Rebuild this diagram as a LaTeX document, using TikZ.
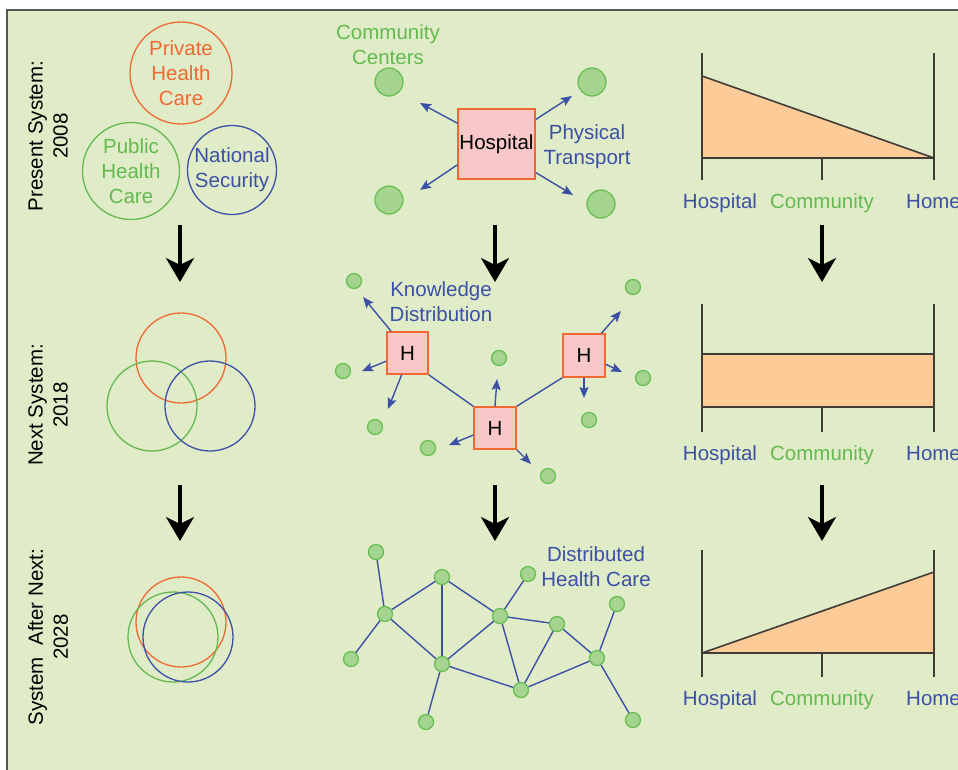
\documentclass[tikz,border=0pt]{standalone}
\usepackage{fontspec}
\setmainfont{Liberation Sans}
\usetikzlibrary{arrows.meta}
\definecolor{panelbg}{RGB}{224,236,200}
\definecolor{framegray}{RGB}{85,85,85}
\definecolor{privorange}{RGB}{240,105,50}
\definecolor{pubgreen}{RGB}{100,185,80}
\definecolor{secblue}{RGB}{60,80,165}
\definecolor{dotfill}{RGB}{165,212,142}
\definecolor{dotline}{RGB}{105,190,85}
\definecolor{hospfill}{RGB}{248,200,200}
\definecolor{barfill}{RGB}{252,203,152}
\definecolor{axisgray}{RGB}{65,60,55}
\begin{document}
\begin{tikzpicture}[x=1pt, y=-1pt, font=\fontsize{20.5}{25}\selectfont,
  ring/.style={circle, draw=#1, text=#1, line width=1.3pt, inner sep=0pt, align=center},
  venn/.style={draw=#1, line width=1.3pt},
  hospbox/.style={draw=privorange, fill=hospfill, line width=1.5pt, inner sep=0pt},
  bigdot/.style={circle, fill=dotfill, draw=dotline, line width=1.3pt, minimum size=28pt, inner sep=0pt},
  smalldot/.style={bigdot, minimum size=15pt},
  flow/.style={draw=secblue, line width=1.4pt, -{Stealth[length=11pt,width=9pt,inset=2pt]}},
  link/.style={draw=secblue, line width=1.4pt},
  bigarrow/.style={line width=3.5pt, -{Stealth[length=24pt,width=28pt,inset=7pt]}},
  axis/.style={draw=axisgray, line width=1.6pt},
  rowlabel/.style={rotate=90, align=center},
  note/.style={text=#1, align=center}]
\useasboundingbox (0,0) rectangle (958,769);
\fill[panelbg] (7,10) rectangle (975,785);
\draw[framegray, line width=1.5pt] (975,10) -- (7,10) -- (7,785);

% row labels
\node[rowlabel] (lbl1) at (48,136) {Present System:\\2008};
\node[rowlabel] (lbl2) at (48,405) {Next System:\\2018};
\node[rowlabel] (lbl3) at (48,637) {System~ After Next:\\2028};

% column 1: sectors
\node[ring=privorange, minimum size=102pt] (priv) at (181,73) {Private\\Health\\Care};
\node[ring=pubgreen, minimum size=97pt] (pub) at (131,171) {Public\\Health\\Care};
\node[ring=secblue, minimum size=89pt] (natsec) at (232,170) {National\\Security};
\draw[venn=privorange] (181,358) circle (45);
\draw[venn=pubgreen] (152,406) circle (45);
\draw[venn=secblue] (210,406) circle (45);
\draw[venn=privorange] (181,622) circle (45);
\draw[venn=pubgreen] (173,637) circle (45);
\draw[venn=secblue] (188,637) circle (45);

% column 2, row 1: one hospital
\node[note=pubgreen] (cctxt) at (388,45) {Community\\Centers};
\node[note=secblue] (pttxt) at (587,147) {Physical\\Transport};
\node[hospbox, minimum width=77pt, minimum height=70pt] (hosp) at (496.5,144) {Hospital};
\node[bigdot] (cc1) at (389,82) {};
\node[bigdot] (cc2) at (592,82) {};
\node[bigdot] (cc3) at (389,200) {};
\node[bigdot] (cc4) at (601,204) {};
\coordinate (t1) at (420,103);
\coordinate (t2) at (572,96);
\coordinate (t3) at (420,190);
\coordinate (t4) at (573,195);
\draw[flow] (hosp.152) -- (t1);
\draw[flow] (hosp.32) -- (t2);
\draw[flow] (hosp.208) -- (t3);
\draw[flow] (hosp.-36) -- (t4);

% column 2, row 2: several hospitals
\node[note=secblue] (kdtxt) at (441,302) {Knowledge\\Distribution};
\node[hospbox, minimum width=41pt, minimum height=42pt] (h1) at (407.5,353) {H};
\node[hospbox, minimum width=42pt, minimum height=43pt] (h2) at (584,355.5) {H};
\node[hospbox, minimum width=42pt, minimum height=42pt] (h3) at (495,428) {H};
\draw[link] (h1.south east) -- (h3.north west);
\draw[link] (h2.south west) -- (h3.north east);
\foreach \p [count=\i] in {(354,281),(633,287),(343,371),(499,358),(643,378),
    (375,427),(589,420),(428,448),(548,476)}
  \node[smalldot] (d\i) at \p {};
\coordinate (k1) at (363,297);
\coordinate (k2) at (362,371);
\coordinate (k3) at (388,409);
\coordinate (k4) at (621,311);
\coordinate (k5) at (622,372);
\coordinate (k6) at (584,398);
\coordinate (k7) at (497,379);
\coordinate (k8) at (449,445);
\coordinate (k9) at (531,464);
\draw[flow] (h1.127) -- (k1);
\draw[flow] (h1.201) -- (k2);
\draw[flow] (h1.255) -- (k3);
\draw[flow] (h2.52) -- (k4);
\draw[flow] (h2.-22) -- (k5);
\draw[flow] (h2.south) -- (k6);
\draw[flow] (h3.north) -- (k7);
\draw[flow] (h3.198) -- (k8);
\draw[flow] (h3.south east) -- (k9);

% column 2, row 3: network
\node[note=secblue] (dhtxt) at (596,567) {Distributed\\Health Care};
\foreach \p [count=\i] in {(376,552),(442,577),(528,574),(385,614),(500,616),
    (557,624),(617,604),(351,659),(442,664),(597,658),(521,690),(426,722),(633,720)}
  \node[smalldot] (n\i) at \p {};
\foreach \a/\b in {1/4,4/2,4/8,4/9,2/9,2/5,5/3,5/9,5/6,5/11,6/11,6/10,7/10,
    10/11,10/13,9/11,9/12}
  \draw[link] (n\a) -- (n\b);

% column 3: where care happens
\fill[barfill] (702,76) -- (934,158) -- (702,158) -- cycle;
\draw[axis] (702,76) -- (934,158);
\fill[barfill] (702,354) rectangle (934,407);
\draw[axis] (702,354) -- (934,354);
\fill[barfill] (702,653) -- (934,572) -- (934,653) -- cycle;
\draw[axis] (702,653) -- (934,572);
\foreach \top/\base/\bot [count=\i] in {53/158/180, 304/407/432, 550/653/677} {
  \draw[axis] (702,\top) -- (702,\bot) (934,\top) -- (934,\bot)
    (702,\base) -- (934,\base) (822,\base) -- (822,\bot);
  \node[anchor=base, text=secblue] (hos\i) at (720,\bot+28) {Hospital};
  \node[anchor=base, text=pubgreen] (com\i) at (822,\bot+28) {Community};
  \node[anchor=base west, text=secblue, inner sep=0pt] (home\i) at (906,\bot+28) {Home};
}

% transitions
\foreach \x [count=\c] in {180,495,822} {
  \coordinate (a\c) at (\x,225); \coordinate (b\c) at (\x,282);
  \coordinate (c\c) at (\x,485); \coordinate (e\c) at (\x,541);
  \draw[bigarrow] (a\c) -- (b\c);
  \draw[bigarrow] (c\c) -- (e\c);
}
\end{tikzpicture}
\end{document}
